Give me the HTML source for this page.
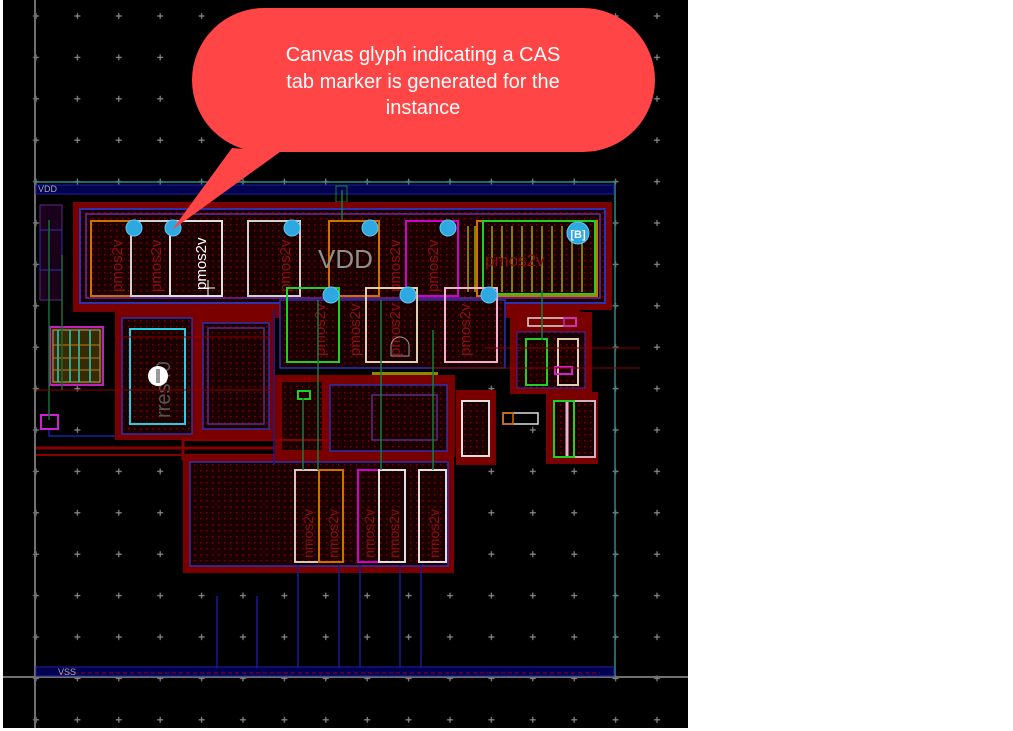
<!DOCTYPE html>
<html><head><meta charset="utf-8"><style>
html,body{margin:0;padding:0;background:#fff;}
svg{display:block;}
text{font-family:"Liberation Sans",sans-serif;}
</style></head><body>
<svg width="1013" height="731" viewBox="0 0 1013 731" xmlns="http://www.w3.org/2000/svg">
<defs>
<pattern id="dots" x="15.3" y="-4.7" width="41.4" height="41.4" patternUnits="userSpaceOnUse">
<path d="M20.7 17.7V23.7M17.7 20.7H23.7" stroke="#8a8a8a" stroke-width="1.2"/>
</pattern>
<pattern id="rd" x="0" y="0" width="6" height="6" patternUnits="userSpaceOnUse">
<rect width="6" height="6" fill="#1a0000"/><rect x="2" y="2" width="1.5" height="1.5" fill="#7a0000"/>
</pattern>
</defs>
<rect x="3" y="0" width="685" height="728" fill="#000"/>
<rect x="3" y="0" width="685" height="728" fill="url(#dots)"/>
<line x1="35" y1="0" x2="35" y2="728" stroke="#707070" stroke-width="2"/>
<line x1="3" y1="677" x2="688" y2="677" stroke="#707070" stroke-width="2"/>
<path d="M36 182H615V677" fill="none" stroke="#2a8a8a" stroke-width="1.5"/>
<rect x="36" y="185" width="578" height="9" fill="#000050" stroke="#2020a0"/>
<text x="38" y="192" font-size="9" fill="#aaa">VDD</text>
<rect x="336" y="186" width="11" height="16" fill="none" stroke="#1a7a3a"/>
<rect x="36" y="667" width="578" height="9" fill="#000050" stroke="#2020a0"/>
<line x1="60" y1="673" x2="600" y2="673" stroke="#a00000" stroke-dasharray="4 3"/>
<text x="58" y="675" font-size="9" fill="#aaa">VSS</text>

<path d="M73 202H612V310H580V318H275V372H115V312H73Z" fill="#7a0000"/>
<rect x="80" y="209" width="525" height="94" fill="url(#rd)" stroke="#3030b0" stroke-width="2"/>
<rect x="86" y="214" width="514" height="84" fill="none" stroke="#6a2aa0" stroke-width="1.5"/>
<rect x="280" y="300" width="225" height="68" fill="url(#rd)" stroke="#3030b0" stroke-width="1.5"/>
<g fill="none" stroke-width="2">
<rect x="91" y="221" width="40" height="75" stroke="#d07000"/>
<rect x="131" y="221" width="39" height="75" stroke="#d0d0d0"/>
<rect x="170" y="221" width="52" height="75" stroke="#e0e0e0"/>
<rect x="248" y="221" width="52" height="75" stroke="#d0d0d0"/>
<rect x="329" y="221" width="50" height="75" stroke="#d07000"/>
<rect x="406" y="221" width="52" height="75" stroke="#d000d0"/>
<rect x="477" y="221" width="120" height="75" stroke="#d07000"/>
<rect x="483" y="221" width="112" height="73" stroke="#20d020"/>
</g>
<g stroke="#808000" stroke-width="2">
<line x1="468" y1="226" x2="468" y2="292"/><line x1="475" y1="226" x2="475" y2="292"/>
<line x1="492" y1="226" x2="492" y2="292"/><line x1="502" y1="226" x2="502" y2="292"/>
<line x1="512" y1="226" x2="512" y2="292"/><line x1="522" y1="226" x2="522" y2="292"/>
<line x1="532" y1="226" x2="532" y2="292"/><line x1="542" y1="226" x2="542" y2="292"/>
<line x1="552" y1="226" x2="552" y2="292"/><line x1="562" y1="226" x2="562" y2="292"/>
<line x1="572" y1="226" x2="572" y2="292"/><line x1="582" y1="226" x2="582" y2="292"/>
</g>
<text x="318" y="268" font-size="26" fill="#909090">VDD</text>
<g font-size="15" fill="#8a1010">
<text transform="translate(122,292) rotate(-90)">pmos2v</text>
<text transform="translate(161,292) rotate(-90)">pmos2v</text>
<text transform="translate(290,292) rotate(-90)">pmos2v</text>
<text transform="translate(400,292) rotate(-90)">pmos2v</text>
<text transform="translate(438,292) rotate(-90)">pmos2v</text>
<text x="485" y="266" font-size="17">pmos2v</text>
<text transform="translate(325,356) rotate(-90)">pmos2v</text>
<text transform="translate(360,356) rotate(-90)">pmos2v</text>
<text transform="translate(400,356) rotate(-90)">pmos2v</text>
<text transform="translate(470,356) rotate(-90)">pmos2v</text>
</g>
<text transform="translate(206,290) rotate(-90)" font-size="15" fill="#fff">pmos2v</text>
<path d="M200 288H215M208 280V296" stroke="#fff"/>
<g fill="none" stroke-width="2">
<rect x="287" y="288" width="52" height="74" stroke="#20d020"/>
<rect x="366" y="288" width="51" height="74" stroke="#e0d0b0"/>
<rect x="445" y="288" width="52" height="74" stroke="#f0b0d0"/>
</g>
<path d="M391 356V346a9 9 0 0 1 18 0V356Z" fill="none" stroke="#999"/>
<rect x="372" y="372" width="66" height="4" fill="#8a8a00"/>
<rect x="372" y="385" width="66" height="4" fill="#8a8a00"/>

<rect x="40" y="205" width="22" height="95" fill="#1a001a" stroke="#5a2a8a"/>
<rect x="40" y="230" width="22" height="40" fill="none" stroke="#3030b0"/>
<rect x="50" y="327" width="53" height="58" fill="#3a2a00" stroke="#c020c0" stroke-width="2"/>
<rect x="53" y="330" width="47" height="52" fill="none" stroke="#c0a070"/>
<g stroke="#20d0d0" stroke-width="1.5"><line x1="58" y1="330" x2="58" y2="382"/><line x1="70" y1="330" x2="70" y2="382"/><line x1="79" y1="330" x2="79" y2="382"/><line x1="90" y1="330" x2="90" y2="382"/></g>
<g stroke="#b08020"><line x1="53" y1="345" x2="100" y2="345"/><line x1="53" y1="358" x2="100" y2="358"/><line x1="53" y1="370" x2="100" y2="370"/></g>
<rect x="41" y="415" width="17" height="14" fill="none" stroke="#d020d0" stroke-width="2"/>
<line x1="49" y1="220" x2="49" y2="420" stroke="#1a6a3a" stroke-width="1.5"/>
<line x1="62" y1="255" x2="62" y2="390" stroke="#1a6a3a" stroke-width="1.5"/>
<path d="M49 430V436H118" fill="none" stroke="#2020a0" stroke-width="1.5"/>

<rect x="115" y="312" width="160" height="128" fill="#7a0000"/>
<rect x="122" y="318" width="70" height="116" fill="url(#rd)" stroke="#3030b0" stroke-width="1.5"/>
<rect x="130" y="329" width="55" height="95" fill="url(#rd)" stroke="#20d0e0" stroke-width="2"/>
<text transform="translate(170,418) rotate(-90)" font-size="20" fill="#555">rres40</text>
<circle cx="158" cy="376" r="10" fill="#fff"/><rect x="156" y="369" width="4" height="14" fill="#999"/>
<rect x="203" y="323" width="66" height="106" fill="url(#rd)" stroke="#3030b0" stroke-width="1.5"/>
<rect x="208" y="328" width="56" height="96" fill="none" stroke="#5a2a8a" stroke-width="1.5"/>
<line x1="36" y1="390" x2="275" y2="390" stroke="#8a0000"/>
<line x1="115" y1="337" x2="270" y2="337" stroke="#8a0000"/>
<line x1="36" y1="448" x2="280" y2="448" stroke="#8a0000" stroke-width="3"/>
<line x1="36" y1="455" x2="280" y2="455" stroke="#8a0000" stroke-width="2"/>

<rect x="275" y="375" width="180" height="82" fill="#7a0000"/>
<rect x="282" y="382" width="40" height="68" fill="url(#rd)"/>
<rect x="330" y="385" width="117" height="66" fill="url(#rd)" stroke="#3030b0" stroke-width="1.5"/>
<rect x="372" y="395" width="65" height="45" fill="none" stroke="#5a2a8a" stroke-width="1.5"/>
<rect x="298" y="391" width="12" height="8" fill="none" stroke="#20d020" stroke-width="2"/>
<line x1="183" y1="440" x2="330" y2="440" stroke="#8a0000" stroke-width="2"/>
<line x1="183" y1="460" x2="183" y2="440" stroke="#8a0000" stroke-width="3"/>

<rect x="510" y="312" width="82" height="82" fill="#7a0000"/>
<rect x="517" y="332" width="68" height="56" fill="url(#rd)" stroke="#3030b0"/>
<rect x="528" y="318" width="48" height="8" fill="none" stroke="#ddd" stroke-width="1.5"/>
<rect x="564" y="318" width="12" height="8" fill="none" stroke="#d020d0" stroke-width="1.5"/>
<rect x="526" y="339" width="21" height="46" fill="none" stroke="#20d020" stroke-width="2"/>
<rect x="558" y="339" width="20" height="46" fill="none" stroke="#e0d0b0" stroke-width="2"/>
<rect x="555" y="367" width="17" height="7" fill="none" stroke="#d020d0" stroke-width="2"/>
<rect x="456" y="390" width="40" height="75" fill="#7a0000"/>
<rect x="462" y="401" width="27" height="55" fill="url(#rd)" stroke="#e0e0e0" stroke-width="2"/>
<rect x="503" y="413" width="35" height="11" fill="none" stroke="#ddd" stroke-width="1.5"/>
<rect x="503" y="413" width="10" height="11" fill="none" stroke="#d07000" stroke-width="1.5"/>
<rect x="546" y="392" width="52" height="72" fill="#7a0000"/>
<rect x="554" y="401" width="41" height="56" fill="url(#rd)" stroke="#d0b0c0" stroke-width="2"/>
<rect x="554" y="401" width="20" height="56" fill="none" stroke="#20d020" stroke-width="2"/>
<line x1="567" y1="402" x2="567" y2="456" stroke="#f0b0d0" stroke-width="3"/>
<line x1="430" y1="368" x2="640" y2="368" stroke="#8a0000"/>
<line x1="485" y1="348" x2="640" y2="348" stroke="#8a0000"/>

<rect x="183" y="455" width="271" height="118" fill="#7a0000"/>
<rect x="190" y="462" width="258" height="104" fill="url(#rd)" stroke="#3030b0" stroke-width="1.5"/>
<g fill="none" stroke-width="2">
<rect x="295" y="470" width="24" height="92" stroke="#d8c8b8"/>
<rect x="319" y="470" width="24" height="92" stroke="#d07000"/>
<rect x="358" y="470" width="21" height="92" stroke="#d000d0"/>
<rect x="379" y="470" width="26" height="92" stroke="#e0e0e0"/>
<rect x="419" y="470" width="27" height="92" stroke="#e0e0e0"/>
</g>
<g font-size="14" fill="#8a1010">
<text transform="translate(313,558) rotate(-90)">nmos2v</text>
<text transform="translate(338,558) rotate(-90)">nmos2v</text>
<text transform="translate(374,558) rotate(-90)">nmos2v</text>
<text transform="translate(399,558) rotate(-90)">nmos2v</text>
<text transform="translate(439,558) rotate(-90)">nmos2v</text>
</g>
<g stroke="#1a1a90" stroke-width="1.5">
<line x1="217" y1="596" x2="217" y2="668"/><line x1="257" y1="596" x2="257" y2="668"/>
<line x1="298" y1="565" x2="298" y2="668"/><line x1="339" y1="565" x2="339" y2="668"/>
<line x1="360" y1="565" x2="360" y2="668"/><line x1="400" y1="565" x2="400" y2="668"/>
<line x1="421" y1="565" x2="421" y2="668"/>
<line x1="274" y1="310" x2="274" y2="465"/>
</g>
<g stroke="#1a7a3a" stroke-width="1.5">
<line x1="303" y1="398" x2="303" y2="470"/><line x1="318" y1="300" x2="318" y2="470"/>
<line x1="342" y1="190" x2="342" y2="220"/><line x1="381" y1="300" x2="381" y2="470"/>
<line x1="433" y1="330" x2="433" y2="470"/><line x1="542" y1="290" x2="542" y2="340"/>
</g>
<g fill="#2ea8e0" stroke="#60c8f0">
<circle cx="134" cy="228" r="8"/><circle cx="173" cy="228" r="8"/>
<circle cx="292" cy="228" r="8"/><circle cx="370" cy="228" r="8"/>
<circle cx="448" cy="228" r="8"/><circle cx="331" cy="295" r="8"/>
<circle cx="408" cy="295" r="8"/><circle cx="489" cy="295" r="8"/>
<circle cx="578" cy="233" r="11"/>
</g>
<text x="578" y="238" font-size="11" fill="#fff" text-anchor="middle" font-weight="bold">[B]</text>

<path d="M232 148 L172 230 L280 152 Z" fill="#ff4545"/>
<rect x="192" y="8" width="463" height="144" rx="72" ry="72" fill="#ff4545"/>
<g font-size="20" fill="#fff" text-anchor="middle">
<text x="423" y="61">Canvas glyph indicating a CAS</text>
<text x="423" y="88">tab marker is generated for the</text>
<text x="423" y="114">instance</text>
</g>
</svg>
</body></html>
